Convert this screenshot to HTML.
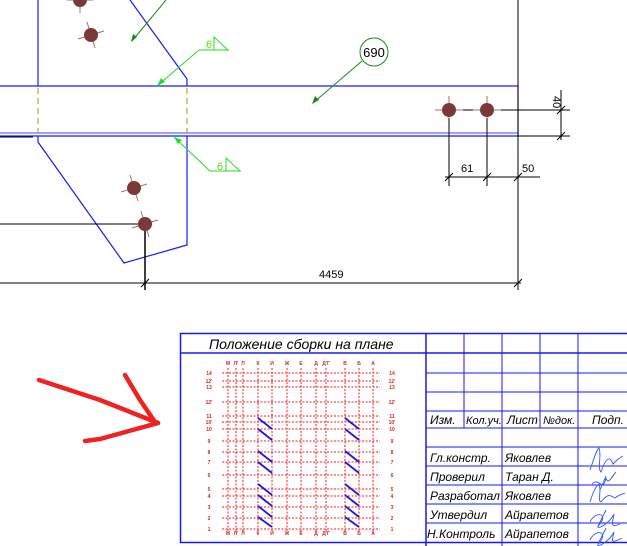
<!DOCTYPE html>
<html><head><meta charset="utf-8"><style>
html,body{margin:0;padding:0;background:#fff;}
svg{display:block;}
text{font-family:"Liberation Sans","DejaVu Sans",sans-serif;}
.it{font-style:italic;font-size:12px;fill:#000;}
.rl{font-size:5px;fill:#e02020;font-weight:bold;}
</style></head><body>
<svg width="627" height="546" viewBox="0 0 627 546" xmlns="http://www.w3.org/2000/svg">
<g stroke="#1a1aff" stroke-width="1.2" fill="none">
<line x1="0" y1="86" x2="518" y2="86"/>
<line x1="0" y1="133" x2="518" y2="133" stroke="#6a6aff"/>
<line x1="0" y1="136" x2="518" y2="136"/>
<line x1="518" y1="86" x2="518" y2="136"/>
<line x1="38" y1="0" x2="38" y2="86"/>
<polyline points="130,0 187,79 187,86"/>
<polyline points="38,136 38,142 124,263 187,245 187,136"/>
</g>
<g stroke="#9a9a20" stroke-width="1" stroke-dasharray="6,4">
<line x1="38" y1="88" x2="38" y2="133"/>
<line x1="187" y1="88" x2="187" y2="133"/>
</g>
<g stroke="#000" stroke-width="1" fill="none">
<line x1="518" y1="0" x2="518" y2="290"/>
<line x1="0" y1="137" x2="33" y2="137"/>
<line x1="0" y1="224" x2="145" y2="224"/>
<line x1="145" y1="224" x2="145" y2="290" stroke-width="1.5"/>
<line x1="0" y1="283" x2="521" y2="283"/>
<line x1="141" y1="287" x2="149" y2="279"/>
<line x1="514" y1="287" x2="522" y2="279"/>
<line x1="449" y1="110" x2="570" y2="110"/>
<line x1="518" y1="136" x2="570" y2="136"/>
<line x1="561" y1="90" x2="561" y2="140"/>
<line x1="557" y1="114" x2="565" y2="106"/>
<line x1="557" y1="140" x2="565" y2="132"/>
<line x1="449" y1="110" x2="449" y2="186"/>
<line x1="487" y1="110" x2="487" y2="186"/>
<line x1="445" y1="177" x2="540" y2="177"/>
<line x1="445" y1="181" x2="453" y2="173"/>
<line x1="483" y1="181" x2="491" y2="173"/>
<line x1="514" y1="181" x2="522" y2="173"/>
</g>
<text x="461" y="172" font-size="11">61</text>
<text x="522" y="172" font-size="11">50</text>
<text x="319" y="278" font-size="11">4459</text>
<text x="0" y="0" font-size="11" transform="translate(553,96) rotate(90)">40</text>
<g fill="#7a3a3a" stroke="#a07070" stroke-width="1">
<g transform="translate(80,0)"><line x1="-13" y1="0" x2="13" y2="0"/><line x1="0" y1="-13" x2="0" y2="13"/><circle r="7" stroke="none"/></g>
<g transform="translate(91,35)"><line x1="-13" y1="4" x2="13" y2="-4"/><line x1="-4" y1="-13" x2="4" y2="13"/><circle r="7" stroke="none"/></g>
<g transform="translate(134,188)"><line x1="-13" y1="4" x2="13" y2="-4"/><line x1="-4" y1="-13" x2="4" y2="13"/><circle r="7" stroke="none"/></g>
<g transform="translate(145,224)"><line x1="-13" y1="4" x2="13" y2="-4"/><line x1="-4" y1="-13" x2="4" y2="13"/><circle r="7" stroke="none"/></g>
<g transform="translate(449,110)"><line x1="-14" y1="0" x2="14" y2="0"/><line x1="0" y1="-14" x2="0" y2="8"/><circle r="7" stroke="none"/></g>
<g transform="translate(487,110)"><line x1="-14" y1="0" x2="14" y2="0"/><line x1="0" y1="-14" x2="0" y2="8"/><circle r="7" stroke="none"/></g>
</g>
<g stroke="#1a8a1a" stroke-width="1" fill="none">
<line x1="166" y1="0" x2="132" y2="41"/>
<line x1="362" y1="61" x2="313" y2="103"/>
<circle cx="374" cy="52" r="14"/>
</g>
<polygon points="131,42 133,34 137,37" fill="#1a8a1a"/>
<polygon points="312,104 315,96 319,100" fill="#1a8a1a"/>
<text x="374" y="57" font-size="13" text-anchor="middle">690</text>
<g stroke="#22dd22" stroke-width="1" fill="none">
<polyline points="157,86 199,50 229,50"/>
<polyline points="214,50 214,37 228,50"/>
<polyline points="174,137 210,171 241,171"/>
<polyline points="226,171 226,158 240,171"/>
</g>
<polygon points="157,86 161,78 165,82" fill="#22dd22"/>
<polygon points="174,137 182,140 178,144" fill="#22dd22"/>
<text x="206" y="48" font-size="11" fill="#66dd00">6</text>
<text x="217" y="170" font-size="11" fill="#66dd00">6</text>
<g stroke="#ee2222" stroke-width="4.5" fill="none" stroke-linecap="round" stroke-linejoin="round">
<polyline points="39,380 100,400 158,423"/>
<polyline points="125,375 140,400 155,422"/>
<polyline points="85,441 100,439 158,423"/>
</g>
<g stroke="#1a1aee" stroke-width="1.5" fill="none">
<rect x="180.5" y="333.5" width="450" height="209"/>
<line x1="180" y1="353" x2="627" y2="353"/>
<line x1="426" y1="333" x2="426" y2="546"/>
</g>
<g stroke="#1a1aee" stroke-width="1" fill="none">
<line x1="426" y1="373" x2="627" y2="373"/>
<line x1="426" y1="392" x2="627" y2="392"/>
<line x1="426" y1="411" x2="627" y2="411"/>
<line x1="426" y1="428" x2="627" y2="428"/>
<line x1="426" y1="447" x2="627" y2="447"/>
<line x1="426" y1="466" x2="627" y2="466"/>
<line x1="426" y1="485" x2="627" y2="485"/>
<line x1="426" y1="504" x2="627" y2="504"/>
<line x1="426" y1="523" x2="627" y2="523"/>
<line x1="464" y1="333" x2="464" y2="428"/>
<line x1="502" y1="333" x2="502" y2="546"/>
<line x1="540" y1="333" x2="540" y2="428"/>
<line x1="578" y1="333" x2="578" y2="546"/>
</g>
<text x="209" y="349" font-size="14" font-style="italic">Положение сборки на плане</text>
<g class="it">
<text x="430" y="424">Изм.</text>
<text x="466" y="424" font-size="11">Кол.уч.</text>
<text x="507" y="424">Лист</text>
<text x="543" y="424" font-size="11">№док.</text>
<text x="592" y="424">Подп.</text>
<text x="430" y="462">Гл.констр.</text>
<text x="505" y="462">Яковлев</text>
<text x="430" y="481">Проверил</text>
<text x="505" y="481">Таран Д.</text>
<text x="430" y="500">Разработал</text>
<text x="505" y="500">Яковлев</text>
<text x="430" y="519">Утвердил</text>
<text x="505" y="519">Айрапетов</text>
<text x="427" y="538">Н.Контроль</text>
<text x="505" y="538">Айрапетов</text>
</g>
<g stroke="#3355ff" stroke-width="0.9" fill="none">
<path d="M590,470 c3,-8 6,-20 9,-22 c3,8 -2,20 2,24 c6,-18 10,-14 12,-8 c4,-4 6,-6 10,-8"/>
<path d="M592,484 c8,-8 10,10 14,-6 c2,8 6,-2 10,-6 M600,490 l6,-14"/>
<path d="M590,502 c3,-10 6,-16 9,-18 c3,8 -2,16 2,18 c8,-10 10,-6 14,-4 c5,-4 6,-3 10,-5"/>
<path d="M590,522 c6,-12 18,-8 10,2 c-8,8 8,2 14,-10 c-2,10 -4,14 6,10 M598,526 l8,-16"/>
<path d="M590,540 c6,-12 18,-8 10,2 c-8,8 8,2 14,-10 c-2,10 -4,12 8,6 M598,544 l8,-16"/>
</g>
<g stroke="#ee2222" stroke-width="1" stroke-dasharray="2,1.5">
<line x1="228" y1="368" x2="228" y2="533"/><line x1="236" y1="368" x2="236" y2="533"/>
<line x1="243" y1="368" x2="243" y2="533"/><line x1="258" y1="368" x2="258" y2="533"/>
<line x1="272" y1="368" x2="272" y2="533"/><line x1="287" y1="368" x2="287" y2="533"/>
<line x1="301" y1="368" x2="301" y2="533"/><line x1="316" y1="368" x2="316" y2="533"/>
<line x1="326" y1="368" x2="326" y2="533"/><line x1="345" y1="368" x2="345" y2="533"/>
<line x1="359" y1="368" x2="359" y2="533"/><line x1="373" y1="368" x2="373" y2="533"/>
<line x1="222" y1="373" x2="380" y2="373"/><line x1="222" y1="381" x2="380" y2="381"/>
<line x1="222" y1="387" x2="380" y2="387"/><line x1="222" y1="402" x2="380" y2="402"/>
<line x1="222" y1="416" x2="380" y2="416"/><line x1="222" y1="422" x2="380" y2="422"/>
<line x1="222" y1="429" x2="380" y2="429"/><line x1="222" y1="441" x2="380" y2="441"/>
<line x1="222" y1="452" x2="380" y2="452"/><line x1="222" y1="462" x2="380" y2="462"/>
<line x1="222" y1="475" x2="380" y2="475"/><line x1="222" y1="489" x2="380" y2="489"/>
<line x1="222" y1="496" x2="380" y2="496"/><line x1="222" y1="507" x2="380" y2="507"/>
<line x1="222" y1="518" x2="380" y2="518"/><line x1="222" y1="529" x2="380" y2="529"/>
</g>
<g stroke="#1a1add" stroke-width="1.8">
<line x1="258" y1="418" x2="272" y2="429"/><line x1="258" y1="429" x2="272" y2="440"/>
<line x1="258" y1="451" x2="272" y2="462"/><line x1="258" y1="462" x2="272" y2="473"/>
<line x1="258" y1="484" x2="272" y2="495"/><line x1="258" y1="495" x2="272" y2="506"/>
<line x1="258" y1="506" x2="272" y2="517"/><line x1="258" y1="517" x2="272" y2="527"/>
<line x1="345" y1="418" x2="359" y2="429"/><line x1="345" y1="429" x2="359" y2="440"/>
<line x1="345" y1="451" x2="359" y2="462"/><line x1="345" y1="462" x2="359" y2="473"/>
<line x1="345" y1="484" x2="359" y2="495"/><line x1="345" y1="495" x2="359" y2="506"/>
<line x1="345" y1="506" x2="359" y2="517"/><line x1="345" y1="517" x2="359" y2="527"/>
</g>
<g class="rl" text-anchor="middle">
<text x="228" y="365">М</text><text x="236" y="365">Л'</text><text x="243" y="365">Л</text><text x="258" y="365">К</text><text x="272" y="365">И</text><text x="287" y="365">Ж</text><text x="301" y="365">Е</text><text x="316" y="365">Д</text><text x="326" y="365">Д'Г</text><text x="345" y="365">В</text><text x="359" y="365">Б</text><text x="373" y="365">А</text>
<text x="228" y="535">М</text><text x="236" y="535">Л'</text><text x="243" y="535">Л</text><text x="258" y="535">К</text><text x="272" y="535">И</text><text x="287" y="535">Ж</text><text x="301" y="535">Е</text><text x="316" y="535">Д</text><text x="326" y="535">Д'Г</text><text x="345" y="535">В</text><text x="359" y="535">Б</text><text x="373" y="535">А</text>
<text x="209" y="375">14</text><text x="209" y="383">12'</text><text x="209" y="389">13</text><text x="209" y="404">12'</text><text x="209" y="418">11</text><text x="209" y="424">10'</text><text x="209" y="431">10</text><text x="209" y="443">9</text><text x="209" y="454">8</text><text x="209" y="464">7</text><text x="209" y="477">6</text><text x="209" y="491">5</text><text x="209" y="498">4</text><text x="209" y="509">3</text><text x="209" y="520">2</text><text x="209" y="531">1</text>
<text x="392" y="375">14</text><text x="392" y="383">12'</text><text x="392" y="389">13</text><text x="392" y="404">12'</text><text x="392" y="418">11</text><text x="392" y="424">10'</text><text x="392" y="431">10</text><text x="392" y="443">9</text><text x="392" y="454">8</text><text x="392" y="464">7</text><text x="392" y="477">6</text><text x="392" y="491">5</text><text x="392" y="498">4</text><text x="392" y="509">3</text><text x="392" y="520">2</text><text x="392" y="531">1</text>
</g>
</svg>
</body></html>
